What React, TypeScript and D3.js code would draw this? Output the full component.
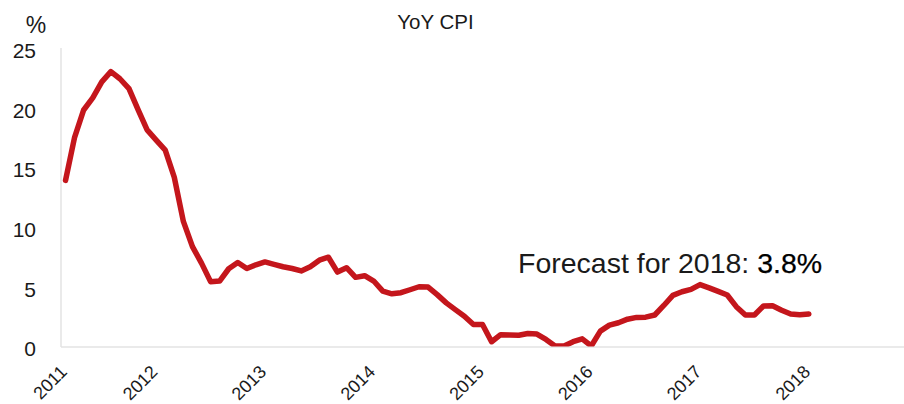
import React from "react";
import * as d3 from "d3";

// Monthly YoY CPI, Mar 2011 .. Jan 2018
const startYear = 2011;
const startMonth = 3; // March
const cpiValues: number[] = [
  // 2011 Mar-Dec
  13.89, 17.51, 19.8, 20.82, 22.16, 23.02, 22.42, 21.59, 19.83, 18.13,
  // 2012
  17.27, 16.44, 14.15, 10.45, 8.34, 6.95, 5.4, 5.45, 6.48, 7.0, 6.5, 6.81,
  // 2013
  7.05, 6.85, 6.65, 6.5, 6.3, 6.65, 7.2, 7.45, 6.2, 6.57, 5.76, 5.9,
  // 2014
  5.45, 4.6, 4.38, 4.47, 4.72, 4.97, 4.94, 4.31, 3.62, 3.05, 2.5, 1.8,
  // 2015
  1.8, 0.36, 0.95, 0.92, 0.9, 1.05, 1.0, 0.55, 0.0, 0.0, 0.36, 0.6,
  // 2016
  0.0, 1.25, 1.75, 1.95, 2.25, 2.4, 2.42, 2.6, 3.4, 4.25, 4.55, 4.75,
  // 2017
  5.15, 4.88, 4.58, 4.28, 3.3, 2.6, 2.6, 3.36, 3.38, 3.0, 2.68, 2.62,
  // 2018
  2.68,
];

const yTicks = [0, 5, 10, 15, 20, 25];
const xTickYears = [2011, 2012, 2013, 2014, 2015, 2016, 2017, 2018];
const titleText = "YoY CPI";
const unitText = "%";
const forecastLabel = "Forecast for 2018: ";
const forecastValue = "3.8%";

const W = 904;
const H = 404;
const FONT = "'Liberation Sans', Arial, Helvetica, sans-serif";

export default function App() {
  const left = 61;
  const right = 904;
  const top = 48;
  const bottom = 346;

  const x = d3.scaleLinear().domain([-0.5, 92.5]).range([left, right]);
  const y = d3.scaleLinear().domain([0, 25]).range([bottom, top]);

  const data = cpiValues.map((v, i) => ({ i, v }));
  const line = d3
    .line<{ i: number; v: number }>()
    .x((d) => x(d.i))
    .y((d) => y(d.v));

  // tick index for each year: first year at first data point, others at January
  const yearIndex = (yr: number) =>
    yr === startYear ? 0 : (yr - startYear) * 12 - (startMonth - 1);

  return (
    <svg
      width={W}
      height={H}
      style={{ position: "absolute", left: 0, top: 0, background: "#fff" }}
      fontFamily={FONT}
    >
      <defs>
        <clipPath id="plotClip">
          <rect x={left} y={0} width={right - left} height={bottom + 0.5} />
        </clipPath>
      </defs>

      {/* title */}
      <text x={435.5} y={29} textAnchor="middle" fontSize={20.5} fill="#1a1a1a">
        {titleText}
      </text>

      {/* unit label */}
      <text x={36} y={33} textAnchor="middle" fontSize={23} fill="#1a1a1a">
        {unitText}
      </text>

      {/* axes lines */}
      <line x1={left} x2={left} y1={top} y2={bottom + 1} stroke="#e3e3e3" strokeWidth={1.5} />
      <line x1={left} x2={right} y1={bottom + 1} y2={bottom + 1} stroke="#e3e3e3" strokeWidth={1.5} />

      {/* y tick labels */}
      {yTicks.map((t) => (
        <text
          key={t}
          x={36}
          y={y(t) + 10.2}
          textAnchor="end"
          fontSize={21}
          fill="#1a1a1a"
        >
          {t}
        </text>
      ))}

      {/* x tick labels */}
      {xTickYears.map((yr) => {
        const px = x(yearIndex(yr)) + 2.5;
        const py = 373;
        return (
          <text
            key={yr}
            x={px}
            y={py}
            textAnchor="end"
            fontSize={18}
            fill="#1a1a1a"
            transform={`rotate(-45, ${px}, ${py})`}
          >
            {yr}
          </text>
        );
      })}

      {/* data line */}
      <g clipPath="url(#plotClip)">
        <path
          d={line(data) || ""}
          fill="none"
          stroke="#c4161c"
          strokeWidth={5.5}
          strokeLinejoin="round"
          strokeLinecap="round"
        />
      </g>

      {/* annotation */}
      <text x={518} y={273} fontSize={28.5} fill="#1a1a1a">
        {forecastLabel}
        <tspan fill="#000" stroke="#000" strokeWidth={0.25}>
          {forecastValue}
        </tspan>
      </text>
    </svg>
  );
}
